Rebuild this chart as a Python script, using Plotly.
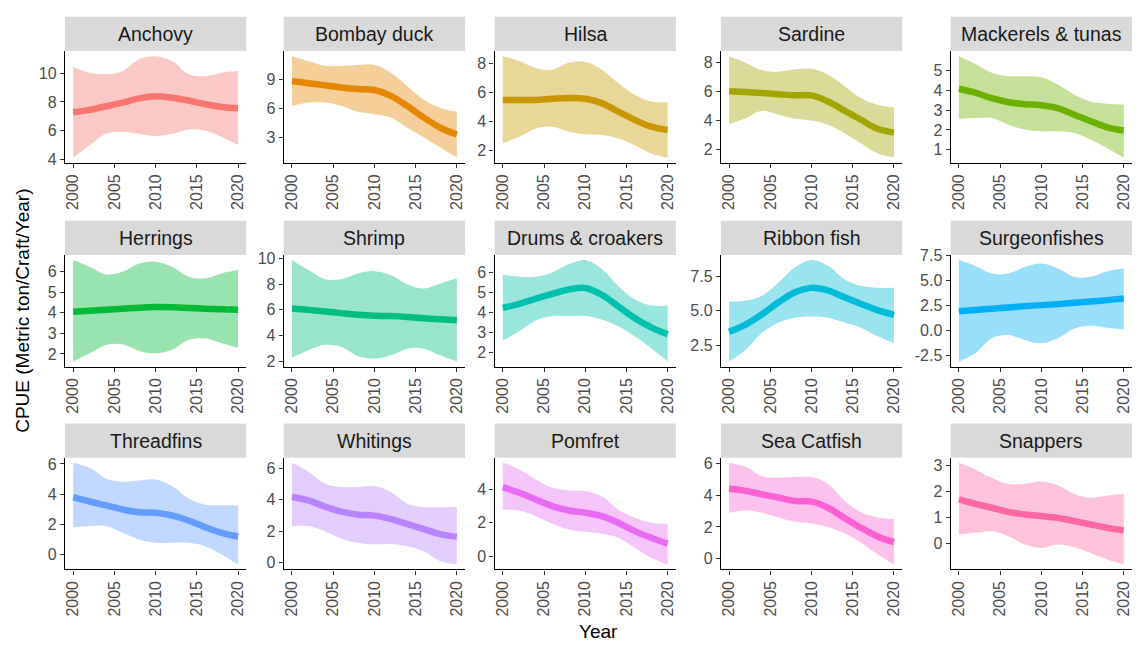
import plotly.graph_objects as go

# ---- data -----------------------------------------------------------------
years = [2000, 2002, 2004, 2006, 2008, 2010, 2012, 2014, 2016, 2018, 2020]

species = [
    "Anchovy", "Bombay duck", "Hilsa", "Sardine", "Mackerels & tunas",
    "Herrings", "Shrimp", "Drums & croakers", "Ribbon fish", "Surgeonfishes",
    "Threadfins", "Whitings", "Pomfret", "Sea Catfish", "Snappers",
]

# smoothed CPUE trend (one row per species, values at `years`)
cpue_fit = [
    [7.28, 7.45, 7.70, 7.95, 8.25, 8.40, 8.30, 8.10, 7.85, 7.65, 7.56],
    [8.83, 8.60, 8.40, 8.17, 8.00, 7.90, 7.30, 6.25, 5.05, 4.00, 3.30],
    [5.50, 5.50, 5.50, 5.58, 5.63, 5.58, 5.28, 4.70, 4.12, 3.65, 3.42],
    [6.00, 5.95, 5.88, 5.80, 5.72, 5.72, 5.30, 4.67, 4.05, 3.43, 3.17],
    [4.08, 3.88, 3.60, 3.40, 3.30, 3.25, 3.10, 2.77, 2.44, 2.13, 1.97],
    [4.05, 4.10, 4.15, 4.20, 4.25, 4.28, 4.27, 4.24, 4.20, 4.17, 4.15],
    [6.10, 6.00, 5.88, 5.75, 5.63, 5.55, 5.52, 5.45, 5.35, 5.27, 5.20],
    [4.22, 4.42, 4.68, 4.92, 5.14, 5.22, 4.88, 4.30, 3.71, 3.24, 2.90],
    [3.47, 4.00, 4.75, 5.62, 6.35, 6.67, 6.48, 5.98, 5.50, 5.05, 4.70],
    [1.95, 2.07, 2.20, 2.32, 2.45, 2.55, 2.65, 2.78, 2.92, 3.05, 3.20],
    [3.80, 3.51, 3.25, 2.98, 2.80, 2.76, 2.58, 2.25, 1.81, 1.43, 1.19],
    [4.20, 3.96, 3.57, 3.25, 3.06, 3.00, 2.78, 2.46, 2.14, 1.82, 1.65],
    [4.14, 3.80, 3.40, 3.00, 2.74, 2.60, 2.40, 2.00, 1.50, 1.10, 0.74],
    [4.43, 4.28, 4.06, 3.85, 3.64, 3.60, 3.21, 2.57, 1.94, 1.40, 1.04],
    [1.69, 1.52, 1.37, 1.21, 1.11, 1.05, 0.98, 0.86, 0.73, 0.60, 0.50],
]

# lower confidence bound
cpue_low = [
    [4.10, 4.97, 5.78, 5.90, 5.78, 5.62, 5.78, 6.08, 6.00, 5.55, 5.00],
    [6.25, 6.60, 6.60, 6.25, 5.65, 5.40, 5.05, 4.00, 3.00, 1.95, 0.90],
    [2.50, 2.95, 3.53, 3.65, 3.30, 3.12, 3.07, 2.84, 2.37, 1.80, 1.50],
    [3.75, 4.15, 4.66, 4.40, 4.12, 4.00, 3.70, 3.13, 2.44, 1.75, 1.45],
    [2.55, 2.60, 2.60, 2.27, 2.02, 1.93, 1.93, 1.85, 1.51, 1.08, 0.60],
    [1.63, 2.03, 2.44, 2.47, 2.15, 2.03, 2.20, 2.68, 2.76, 2.52, 2.30],
    [2.30, 2.87, 3.30, 3.13, 2.43, 2.22, 2.48, 3.00, 3.00, 2.48, 2.00],
    [2.58, 3.05, 3.59, 3.81, 3.81, 3.81, 3.64, 3.30, 2.80, 2.20, 1.53],
    [1.30, 2.15, 3.40, 4.14, 4.50, 4.58, 4.50, 4.14, 3.77, 3.15, 2.66],
    [-3.08, -2.25, -0.76, -0.43, -0.93, -1.26, -0.76, 0.23, 0.50, 0.30, 0.13],
    [1.81, 1.88, 1.88, 1.43, 0.99, 0.77, 0.77, 0.77, 0.55, 0.00, -0.66],
    [2.30, 2.34, 2.00, 1.53, 1.27, 1.16, 1.20, 1.06, 0.74, 0.10, -0.10],
    [2.80, 2.74, 2.40, 1.94, 1.60, 1.46, 1.34, 1.10, 0.50, -0.10, -0.50],
    [2.90, 3.06, 2.90, 2.60, 2.32, 2.22, 2.00, 1.60, 1.00, 0.27, -0.37],
    [0.34, 0.41, 0.47, 0.28, -0.04, -0.17, -0.04, -0.14, -0.36, -0.61, -0.80],
]

# upper confidence bound
cpue_high = [
    [10.45, 10.05, 9.94, 10.17, 10.98, 11.20, 10.86, 9.94, 9.80, 10.05, 10.17],
    [11.40, 10.90, 10.40, 10.40, 10.50, 10.50, 9.70, 8.30, 6.90, 6.05, 5.65],
    [8.53, 8.20, 7.72, 7.60, 8.07, 8.14, 7.60, 6.67, 5.86, 5.40, 5.35],
    [8.40, 7.95, 7.43, 7.33, 7.50, 7.54, 7.15, 6.35, 5.54, 5.08, 4.90],
    [5.72, 5.33, 4.88, 4.71, 4.71, 4.66, 4.29, 3.78, 3.44, 3.32, 3.27],
    [6.57, 6.24, 5.87, 6.00, 6.40, 6.49, 6.24, 5.76, 5.68, 5.92, 6.08],
    [9.86, 9.08, 8.38, 8.38, 8.82, 9.00, 8.70, 7.97, 7.66, 8.05, 8.44],
    [5.88, 5.78, 5.78, 6.00, 6.42, 6.62, 6.17, 5.32, 4.64, 4.34, 4.34],
    [5.68, 5.73, 6.10, 7.06, 8.17, 8.70, 8.28, 7.30, 6.82, 6.68, 6.68],
    [7.05, 6.46, 5.70, 5.70, 6.36, 6.70, 6.20, 5.37, 5.37, 5.93, 6.20],
    [6.07, 5.74, 5.03, 4.81, 4.90, 4.96, 4.52, 3.70, 3.30, 3.26, 3.26],
    [6.35, 5.78, 5.03, 4.82, 4.82, 4.86, 4.50, 3.75, 3.53, 3.53, 3.57],
    [5.60, 5.20, 4.60, 4.10, 3.94, 3.90, 3.60, 2.80, 2.30, 2.00, 1.94],
    [6.05, 5.80, 5.20, 5.11, 5.15, 5.15, 4.72, 3.66, 2.92, 2.60, 2.50],
    [3.09, 2.83, 2.51, 2.28, 2.28, 2.38, 2.23, 1.90, 1.75, 1.84, 1.90],
]

y_tick_labels = [
    ["4", "6", "8", "10"],
    ["3", "6", "9"],
    ["2", "4", "6", "8"],
    ["2", "4", "6", "8"],
    ["1", "2", "3", "4", "5"],
    ["2", "3", "4", "5", "6"],
    ["2", "4", "6", "8", "10"],
    ["2", "3", "4", "5", "6"],
    ["2.5", "5.0", "7.5"],
    ["-2.5", "0.0", "2.5", "5.0", "7.5"],
    ["0", "2", "4", "6"],
    ["0", "2", "4", "6"],
    ["0", "2", "4"],
    ["0", "2", "4", "6"],
    ["-1", "0", "1", "2", "3"],
]

x_tick_values = [2000, 2005, 2010, 2015, 2020]

# ggplot2-style hue palette, one colour per species
colors = [
    "#F8766D", "#E58700", "#C99800", "#A3A500", "#6BB100",
    "#00BA38", "#00BF7D", "#00C0AF", "#00BCD8", "#00B0F6",
    "#619CFF", "#B983FF", "#E76BF3", "#FD61D1", "#FF67A4",
]

# ---- layout geometry (pixels) ----------------------------------------------
W, H = 1141, 647
col_left = [64, 283, 494, 720.5, 950.5]
panel_w = 181.5
strip_top = [9, 217, 424]
strip_h = 35
panel_h = 114

FONT = "Liberation Sans, Arial, sans-serif"


def hex_to_rgba(h, a):
    h = h.lstrip("#")
    r, g, b = int(h[0:2], 16), int(h[2:4], 16), int(h[4:6], 16)
    return f"rgba({r},{g},{b},{a})"


def px_x(v):
    return v / W


def px_y(v):
    return 1 - v / H


fig = go.Figure()
layout = dict(
    width=W, height=H, autosize=False,
    margin=dict(l=0, r=0, t=0, b=0),
    paper_bgcolor="white", plot_bgcolor="white",
    showlegend=False,
    font=dict(family=FONT),
    shapes=[], annotations=[],
)

for i, name in enumerate(species):
    row, col = divmod(i, 5)
    k = i + 1
    xa = "x" if k == 1 else f"x{k}"
    ya = "y" if k == 1 else f"y{k}"
    c = colors[i]

    # confidence ribbon: upper bound, then lower bound filled up to it
    fig.add_trace(go.Scatter(
        x=years, y=cpue_high[i], xaxis=xa, yaxis=ya, mode="lines",
        line=dict(width=0, shape="spline", smoothing=1.0, color=c),
        hoverinfo="skip",
    ))
    fig.add_trace(go.Scatter(
        x=years, y=cpue_low[i], xaxis=xa, yaxis=ya, mode="lines",
        line=dict(width=0, shape="spline", smoothing=1.0, color=c),
        fill="tonexty", fillcolor=hex_to_rgba(c, 0.4),
        hoverinfo="skip",
    ))
    # smoothed trend
    fig.add_trace(go.Scatter(
        x=years, y=cpue_fit[i], xaxis=xa, yaxis=ya, mode="lines",
        line=dict(width=6.5, shape="spline", smoothing=1.0, color=c),
        name=name,
    ))

    lo = min(cpue_low[i])
    hi = max(cpue_high[i])
    pad = 0.05 * (hi - lo)

    x0 = col_left[col]
    x1 = x0 + panel_w
    p_top = strip_top[row] + strip_h
    p_bot = p_top + panel_h

    axis_common = dict(
        showline=True, linecolor="black", linewidth=1.2,
        ticks="outside", ticklen=4, tickcolor="#333333", tickwidth=1.1,
        showgrid=False, zeroline=False,
        tickfont=dict(family=FONT, size=16, color="#4D4D4D"),
    )
    layout["xaxis" if k == 1 else f"xaxis{k}"] = dict(
        axis_common,
        domain=[px_x(x0), px_x(x1)],
        anchor=ya,
        range=[1999, 2021],
        tickvals=x_tick_values,
        ticktext=[str(v) for v in x_tick_values],
        tickangle=-90,
    )
    layout["yaxis" if k == 1 else f"yaxis{k}"] = dict(
        axis_common,
        domain=[px_y(p_bot), px_y(p_top)],
        anchor=xa,
        range=[lo - pad, hi + pad],
        tickvals=[float(t) for t in y_tick_labels[i]],
        ticktext=y_tick_labels[i],
    )

    # facet strip
    layout["shapes"].append(dict(
        type="rect", xref="paper", yref="paper",
        x0=px_x(x0), x1=px_x(x1),
        y0=px_y(strip_top[row] + strip_h), y1=px_y(strip_top[row]),
        fillcolor="#D9D9D9", line=dict(width=0), layer="below",
    ))
    layout["annotations"].append(dict(
        xref="paper", yref="paper",
        x=px_x((x0 + x1) / 2), y=px_y(strip_top[row] + strip_h / 2),
        text=name, showarrow=False, xanchor="center", yanchor="middle",
        font=dict(family=FONT, size=19.5, color="#1A1A1A"),
    ))

# shared axis titles
layout["annotations"].append(dict(
    xref="paper", yref="paper", x=px_x(22), y=px_y(309),
    text="CPUE (Metric ton/Craft/Year)", textangle=-90, showarrow=False,
    xanchor="center", yanchor="middle",
    font=dict(family=FONT, size=19, color="black"),
))
layout["annotations"].append(dict(
    xref="paper", yref="paper", x=px_x(598), y=px_y(636),
    text="Year", showarrow=False, xanchor="center", yanchor="middle",
    font=dict(family=FONT, size=19, color="black"),
))

fig.update_layout(**layout)
fig.write_html("out.html")
